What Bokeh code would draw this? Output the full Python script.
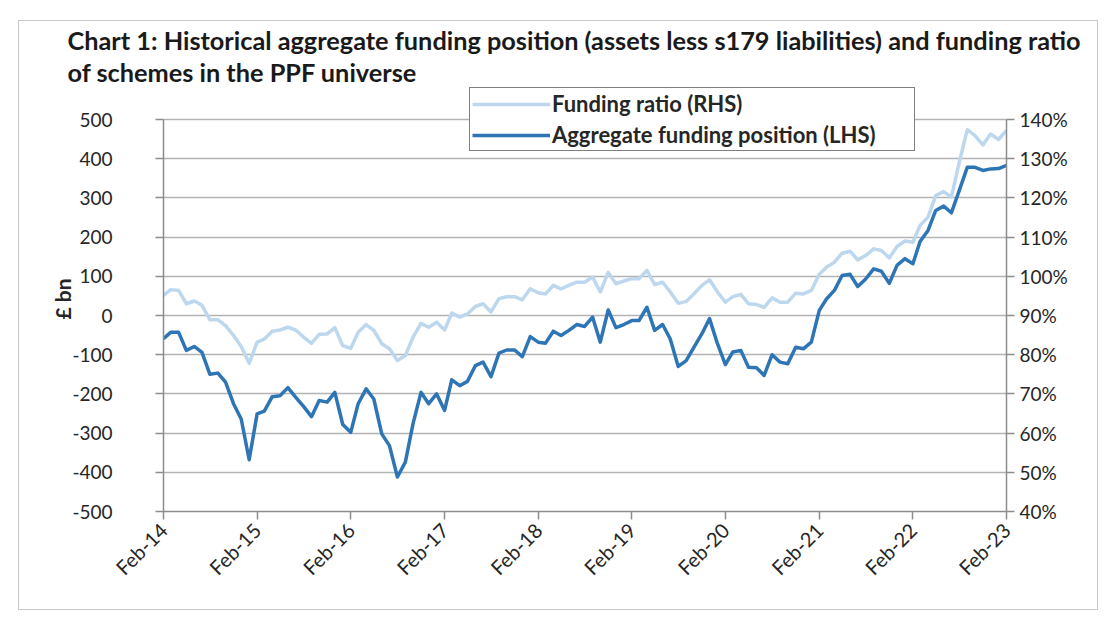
import math
import pandas as pd
from bokeh.plotting import figure
from bokeh.models import (Range1d, LinearAxis, FixedTicker, PrintfTickFormatter,
                          DatetimeTickFormatter, Legend, LegendItem, Title)
from bokeh.embed import file_html
from bokeh.resources import INLINE

# ---------------- data ----------------
dates = pd.date_range("2014-02-01", "2023-02-01", freq="MS")

aggregate_funding_bn = [
    -59, -43, -43, -89, -79, -94, -150, -147, -170, -225, -264, -368,
    -251, -244, -207, -205, -184, -208, -232, -258, -217, -221, -196, -278,
    -298, -225, -187, -213, -302, -332, -412, -374, -276, -196, -225, -200,
    -242, -164, -179, -168, -128, -119, -156, -96, -88, -88, -105, -54,
    -68, -71, -40, -51, -38, -23, -28, -4, -68, 14, -31, -23,
    -13, -13, 21, -38, -23, -60, -130, -115, -81, -47, -8, -72,
    -125, -93, -89, -132, -133, -153, -100, -119, -123, -81, -85, -68,
    13, 42, 64, 102, 105, 74, 93, 119, 113, 82, 128, 145,
    132, 189, 217, 268, 279, 262, 319, 378, 378, 370, 374, 375,
    383,
]

funding_ratio_pct = [
    95.1, 96.6, 96.4, 93.0, 93.7, 92.6, 88.9, 88.9, 87.4, 84.9, 82.1, 77.8,
    83.2, 84.0, 86.0, 86.3, 87.0, 86.3, 84.5, 82.9, 85.2, 85.3, 86.9, 82.3,
    81.6, 85.7, 87.7, 86.2, 82.8, 81.5, 78.5, 79.8, 84.5, 88.0, 87.0, 88.3,
    86.3, 90.6, 89.6, 90.4, 92.3, 93.0, 90.9, 94.3, 94.8, 94.8, 94.0, 96.8,
    95.8, 95.5, 97.7, 96.8, 97.7, 98.5, 98.5, 99.8, 96.0, 101.0, 98.1, 98.8,
    99.4, 99.4, 101.5, 97.9, 98.5, 96.0, 93.1, 93.6, 95.5, 97.7, 99.1, 96.0,
    93.4, 94.8, 95.4, 93.0, 92.8, 92.1, 94.5, 93.4, 93.4, 95.7, 95.5, 96.4,
    100.5, 102.3, 103.6, 105.9, 106.4, 104.2, 105.3, 107.0, 106.6, 104.7, 107.6, 109.0,
    108.7, 113.0, 115.1, 120.6, 121.6, 120.2, 129.1, 137.4, 135.9, 133.5, 136.3, 134.9,
    137.2,
]

tick_years = list(range(2014, 2024))
lhs_ticks = list(range(-500, 501, 100))
rhs_ticks = list(range(40, 141, 10))

title_lines = [
    "Chart 1: Historical aggregate funding position (assets less s179 liabilities) and funding ratio",
    "of schemes in the PPF universe",
]
series_names = ["Funding ratio (RHS)", "Aggregate funding position (LHS)"]
y_label = "£ bn"

# ---------------- styles ----------------
FONT = "Lato"
DARK = "#2e75b6"
LIGHT = "#bdd7ee"
AXIS_C = "#8c8c8c"
GRID_C = "#b3b3b3"
TXT = "#262626"

# frame extends a little above the top tick so the legend can overlap it
EXTRA = 0.0842  # fraction of the axis span kept free above the top tick

p = figure(width=1080, height=590, output_backend="svg", toolbar_location=None,
           x_axis_type="datetime",
           x_range=Range1d(dates[0], dates[-1]),
           y_range=Range1d(-500, 500 + 1000 * EXTRA),
           min_border_left=144, min_border_right=93,
           min_border_top=65, min_border_bottom=100,
           background_fill_color="white", border_fill_color="white",
           outline_line_color=None, margin=(20, 0, 0, 18),
           styles={"border": "1px solid #c8c8c8"})

p.extra_y_ranges = {"rhs": Range1d(40, 140 + 100 * EXTRA)}

# x axis
xa = p.xaxis[0]
xa.ticker = FixedTicker(ticks=[pd.Timestamp(f"{y}-02-01").value / 1e6 for y in tick_years])
xa.formatter = DatetimeTickFormatter(years="%b-%y", months="%b-%y", days="%b-%y",
                                     hours="%b-%y", minutes="%b-%y")
xa.major_label_orientation = math.pi / 4
xa.minor_tick_line_color = None

# left axis
ya = p.yaxis[0]
ya.ticker = FixedTicker(ticks=lhs_ticks)
ya.formatter = PrintfTickFormatter(format="%d")
ya.bounds = (-500, 500)
ya.minor_tick_line_color = None
ya.axis_label = y_label
ya.axis_label_text_font = FONT
ya.axis_label_text_font_style = "bold"
ya.axis_label_text_font_size = "21px"
ya.axis_label_text_color = TXT
ya.axis_label_standoff = -6

# right axis
ra = LinearAxis(y_range_name="rhs", ticker=FixedTicker(ticks=rhs_ticks),
                formatter=PrintfTickFormatter(format="%d%%"), bounds=(40, 140))
ra.minor_tick_line_color = None
p.add_layout(ra, "right")

for ax in [xa, ya, ra]:
    ax.axis_line_color = AXIS_C
    ax.axis_line_width = 1.5
    ax.major_tick_line_color = AXIS_C
    ax.major_tick_line_width = 1.5
    ax.major_tick_in = 0
    ax.major_tick_out = 8
    ax.major_label_text_font = FONT
    ax.major_label_text_font_size = "19px"
    ax.major_label_text_color = TXT
xa.major_label_text_font_size = "20px"
xa.major_label_standoff = 7
ya.major_label_standoff = 43
ra.major_label_standoff = 5

p.xgrid.grid_line_color = None
p.ygrid.ticker = FixedTicker(ticks=lhs_ticks)
p.ygrid.grid_line_color = GRID_C
p.ygrid.grid_line_width = 1.5

# lines
r_ratio = p.line(dates, funding_ratio_pct, y_range_name="rhs",
                 line_color=LIGHT, line_width=3.5, line_join="round")
r_agg = p.line(dates, aggregate_funding_bn,
               line_color=DARK, line_width=3.5, line_join="round")

# legend
legend = Legend(items=[LegendItem(label=series_names[0], renderers=[r_ratio]),
                       LegendItem(label=series_names[1], renderers=[r_agg])],
                location=(306, 360), orientation="vertical",
                border_line_color="black", border_line_width=1.5,
                background_fill_color="white", background_fill_alpha=1.0,
                label_text_font=FONT, label_text_font_style="bold",
                label_text_font_size="22px", label_text_color=TXT,
                glyph_width=78, glyph_height=20, label_height=20,
                label_width=360, label_standoff=2, spacing=4, padding=2, margin=0)
p.add_layout(legend, "center")

# title (two lines) in the top panel
for t in reversed(title_lines):
    p.add_layout(Title(text=t, align="left", offset=-96, standoff=0,
                       text_font=FONT, text_font_style="bold",
                       text_font_size="25.3px", text_color="#1a1a1a"), "above")

open("out.html", "w").write(file_html(p, INLINE))
